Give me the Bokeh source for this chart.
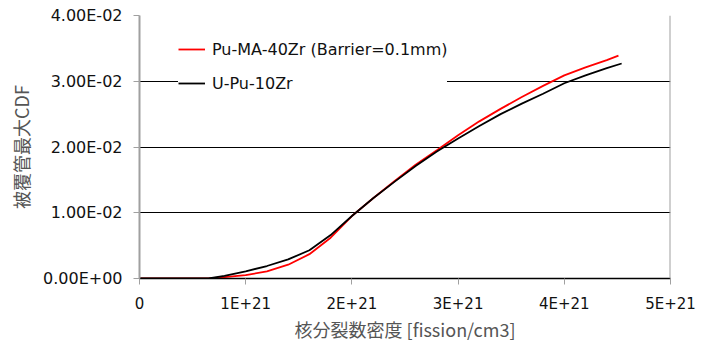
from bokeh.plotting import figure
from bokeh.models import (FixedTicker, CustomJSTickFormatter, Legend, LegendItem,
                          Range1d, Span)
from bokeh.embed import file_html
from bokeh.resources import INLINE

# Fission density in units of 1E+21 fission/cm3
x_red = [0.0, 0.5, 0.65, 0.8, 1.0, 1.2, 1.4, 1.6, 1.8, 2.0, 2.2, 2.4, 2.6, 2.8,
         3.0, 3.2, 3.4, 3.6, 3.8, 4.0, 4.2, 4.4, 4.51]
y_red = [0.0, 0.0, 0.0, 0.0002, 0.0005, 0.0011, 0.0021, 0.0037, 0.0062, 0.0095,
         0.0122, 0.0148, 0.0173, 0.0195, 0.0218, 0.0239, 0.0258, 0.0276, 0.0293,
         0.0309, 0.0321, 0.0332, 0.0339]

x_black = [0.0, 0.5, 0.65, 0.8, 1.0, 1.2, 1.4, 1.6, 1.8, 2.0, 2.2, 2.4, 2.6, 2.8,
           3.0, 3.2, 3.4, 3.6, 3.8, 4.0, 4.2, 4.4, 4.54]
y_black = [0.0, 0.0, 0.0, 0.0004, 0.0011, 0.0019, 0.0029, 0.0043, 0.0066, 0.0095,
           0.0122, 0.0147, 0.0171, 0.0193, 0.0213, 0.0232, 0.0250, 0.0266, 0.0281,
           0.0297, 0.0309, 0.0320, 0.0327]

series_names = ["Pu-MA-40Zr (Barrier=0.1mm)", "U-Pu-10Zr"]

x_ticks = [0, 1, 2, 3, 4, 5]
x_tick_labels = ["0", "1E+21", "2E+21", "3E+21", "4E+21", "5E+21"]
y_ticks = [0.0, 0.01, 0.02, 0.03, 0.04]
y_tick_labels = ["0.00E+00", "1.00E-02", "2.00E-02", "3.00E-02", "4.00E-02"]

x_title = "核分裂数密度 [fission/cm3]"
y_title = "被覆管最大CDF"

p = figure(width=703, height=344, output_backend="svg", toolbar_location=None,
           x_range=Range1d(0, 5), y_range=Range1d(0, 0.04),
           min_border_left=139, min_border_right=33, min_border_top=15,
           min_border_bottom=66)
p.outline_line_color = None
p.background_fill_color = "white"
p.border_fill_color = "white"

fmt_code = """
let best = 0; let d = Infinity;
for (let i = 0; i < tv.length; i++) {
  const dd = Math.abs(tv[i] - tick);
  if (dd < d) { d = dd; best = i; }
}
return lab[best];
"""
p.xaxis.ticker = FixedTicker(ticks=x_ticks)
p.xaxis.formatter = CustomJSTickFormatter(args=dict(tv=x_ticks, lab=x_tick_labels), code=fmt_code)
p.yaxis.ticker = FixedTicker(ticks=y_ticks)
p.yaxis.formatter = CustomJSTickFormatter(args=dict(tv=y_ticks, lab=y_tick_labels), code=fmt_code)

tick_font = "DejaVu Sans"
for ax in (p.xaxis[0], p.yaxis[0]):
    ax.major_label_text_font = tick_font
    ax.major_label_text_color = "#111111"
    ax.minor_tick_line_color = None
    ax.major_tick_in = 0
    ax.major_tick_out = 6
    ax.major_tick_line_color = "#a0a0a0"
    ax.axis_label_text_font = "Noto Sans CJK JP"
    ax.axis_label_text_font_style = "normal"
    ax.axis_label_text_color = "#555555"

p.xaxis.major_label_text_font_size = "15px"
p.yaxis.major_label_text_font_size = "16px"
p.xaxis.axis_label_text_font_size = "18px"
p.yaxis.axis_label_text_font_size = "18px"

p.xaxis.axis_label = x_title
p.yaxis.axis_label = y_title
p.xaxis.axis_line_color = "black"
p.xaxis.axis_line_width = 1.5
p.yaxis.axis_line_color = "#a0a0a0"
p.yaxis.axis_line_width = 2
p.xaxis.major_label_standoff = 10
p.yaxis.major_label_standoff = 11
p.xaxis.axis_label_standoff = 0
p.yaxis.axis_label_standoff = 6

p.xgrid.grid_line_color = None
p.ygrid.ticker = FixedTicker(ticks=y_ticks)
p.ygrid.grid_line_color = "black"
p.ygrid.grid_line_width = 1

p.add_layout(Span(location=5, dimension="height", line_color="#a0a0a0", line_width=2))

r_red = p.line(x_red, y_red, line_color="#ff0000", line_width=1.8)
r_black = p.line(x_black, y_black, line_color="#000000", line_width=1.8)

legend = Legend(items=[LegendItem(label=series_names[0], renderers=[r_red]),
                       LegendItem(label=series_names[1], renderers=[r_black])],
                location=(39, 185), padding=20, spacing=14,
                glyph_width=27, glyph_height=20, label_height=20,
                label_standoff=7, label_text_font=tick_font,
                label_text_font_size="16px", label_text_color="#111111",
                border_line_color=None, background_fill_color="white",
                background_fill_alpha=1.0, margin=0)
p.add_layout(legend)

open("out.html", "w").write(file_html(p, INLINE))
